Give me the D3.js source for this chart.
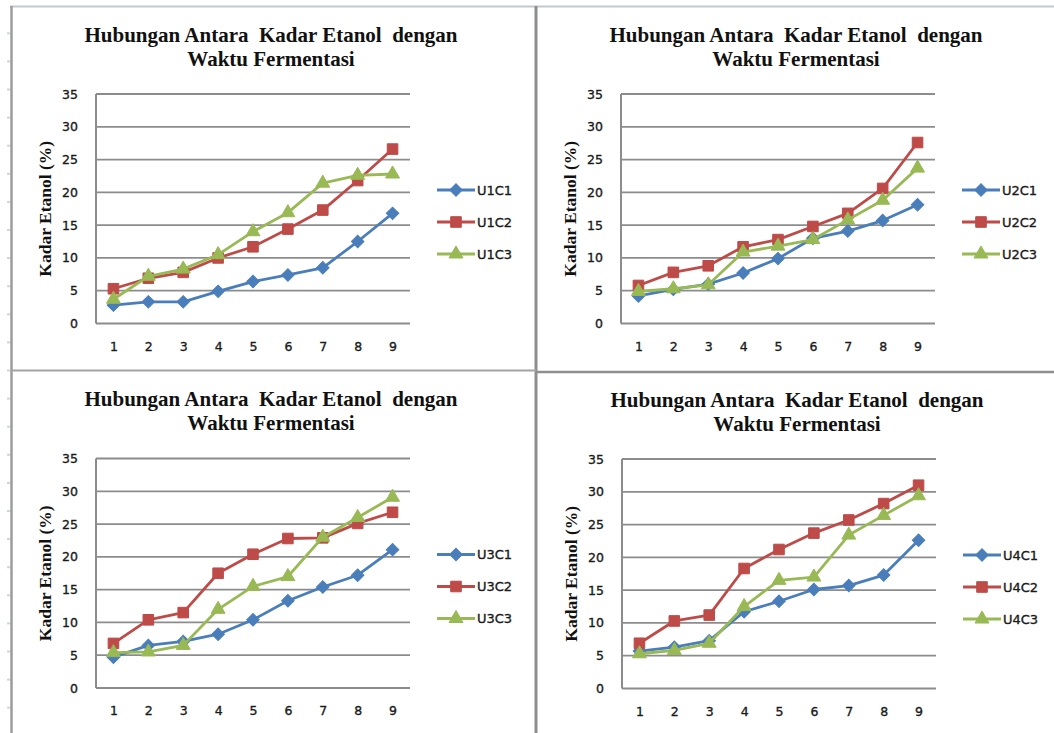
<!DOCTYPE html>
<html>
<head>
<meta charset="utf-8">
<script src="https://cdn.jsdelivr.net/npm/d3@7"></script>
<style>
  html, body { margin: 0; padding: 0; background: #ffffff; }
  svg { display: block; }
</style>
</head>
<body>
<svg id="chart" width="1054" height="733"></svg>
<script>
// ---- data ----
const categories = [1, 2, 3, 4, 5, 6, 7, 8, 9];
const yTicks = [0, 5, 10, 15, 20, 25, 30, 35];
const titleLines = ["Hubungan Antara  Kadar Etanol  dengan", "Waktu Fermentasi"];
const yAxisTitle = "Kadar Etanol (%)";

const namesU1 = ["U1C1", "U1C2", "U1C3"];
const u1c1 = [2.8, 3.3, 3.3, 4.9, 6.4, 7.4, 8.5, 12.5, 16.8];
const u1c2 = [5.3, 6.9, 7.8, 10.0, 11.7, 14.4, 17.3, 21.8, 26.6];
const u1c3 = [3.7, 7.2, 8.3, 10.5, 14.0, 16.9, 21.4, 22.6, 22.8];

const namesU2 = ["U2C1", "U2C2", "U2C3"];
const u2c1 = [4.2, 5.2, 6.0, 7.7, 9.9, 13.0, 14.1, 15.7, 18.1];
const u2c2 = [5.8, 7.8, 8.8, 11.7, 12.8, 14.8, 16.8, 20.6, 27.6];
const u2c3 = [4.9, 5.3, 5.9, 10.9, 11.8, 12.8, 15.8, 18.8, 23.7];

const namesU3 = ["U3C1", "U3C2", "U3C3"];
const u3c1 = [4.7, 6.5, 7.1, 8.2, 10.4, 13.3, 15.4, 17.2, 21.1];
const u3c2 = [6.8, 10.4, 11.5, 17.5, 20.4, 22.8, 22.9, 25.1, 26.8];
const u3c3 = [5.4, 5.5, 6.5, 12.0, 15.5, 17.0, 23.0, 26.0, 29.1];

const namesU4 = ["U4C1", "U4C2", "U4C3"];
const u4c1 = [5.7, 6.3, 7.3, 11.7, 13.3, 15.1, 15.7, 17.3, 22.6];
const u4c2 = [6.9, 10.3, 11.2, 18.3, 21.2, 23.7, 25.7, 28.2, 31.0];
const u4c3 = [5.3, 5.8, 6.9, 12.5, 16.5, 17.0, 23.4, 26.4, 29.4];

// ---- styling ----
const seriesColors = ["#4A7EBB", "#BE4B48", "#98B954"];
const markerShapes = ["diamond", "square", "triangle"];
const gridColor = "#8c8c8c";
const serif = "Liberation Serif";
const sans = "DejaVu Sans";

const panels = [
  { dx: 0,   dy: 0,     names: namesU1, values: [u1c1, u1c2, u1c3] },
  { dx: 525, dy: 0,     names: namesU2, values: [u2c1, u2c2, u2c3] },
  { dx: 0,   dy: 364.5, names: namesU3, values: [u3c1, u3c2, u3c3] },
  { dx: 526, dy: 365,   names: namesU4, values: [u4c1, u4c2, u4c3] }
];

const svg = d3.select("#chart");

// ---- sheet frame ----
svg.append("line").attr("x1", 10).attr("x2", 1054).attr("y1", 6.5).attr("y2", 6.5)
  .attr("stroke", "#c3c8d2").attr("stroke-width", 2);
svg.append("g").selectAll("line").data(d3.range(33.3, 733, 28.1)).join("line")
  .attr("x1", 7).attr("x2", 10.5).attr("y1", d => d).attr("y2", d => d)
  .attr("stroke", "#cfd6e2").attr("stroke-width", 2);
svg.append("line").attr("x1", 11.5).attr("x2", 11.5).attr("y1", 6).attr("y2", 733)
  .attr("stroke", "#9c9c9c").attr("stroke-width", 2.5);
svg.append("line").attr("x1", 536).attr("x2", 536).attr("y1", 6).attr("y2", 733)
  .attr("stroke", "#8e8e8e").attr("stroke-width", 3);
svg.append("line").attr("x1", 11).attr("x2", 536).attr("y1", 370.5).attr("y2", 370.5)
  .attr("stroke", "#a3a3a3").attr("stroke-width", 2);
svg.append("line").attr("x1", 536).attr("x2", 1054).attr("y1", 372).attr("y2", 372)
  .attr("stroke", "#8e8e8e").attr("stroke-width", 2.5);

function markerPath(shape) {
  if (shape === "diamond") return d3.symbol(d3.symbolSquare, 78)();
  if (shape === "square") return d3.symbol(d3.symbolSquare, 112)();
  return d3.symbol(d3.symbolTriangle, 84)();
}

function drawMarker(sel, shape, color) {
  return sel.append("path")
    .attr("d", markerPath(shape))
    .attr("fill", color)
    .attr("stroke", color)
    .attr("stroke-width", 1);
}

function styleLabels(sel, size) {
  sel.attr("font-family", sans).attr("font-size", size)
    .attr("fill", "#1a1a1a").attr("stroke", "#1a1a1a").attr("stroke-width", 0.35);
}

function drawPanel(p) {
  const g = svg.append("g").attr("transform", `translate(${p.dx},${p.dy})`);
  const left = 96, right = 410, top = 94, bottom = 323.5;

  const x = d3.scalePoint().domain(categories).range([left, right]).padding(0.5);
  const y = d3.scaleLinear().domain([0, 35]).range([bottom, top]);

  // title
  const t = g.append("text").attr("text-anchor", "middle")
    .attr("font-family", serif).attr("font-weight", "bold").attr("font-size", 21)
    .attr("fill", "#111").style("white-space", "pre");
  t.append("tspan").attr("x", 271).attr("y", 41.7).text(titleLines[0]);
  t.append("tspan").attr("x", 271).attr("y", 65.7).text(titleLines[1]);

  // y-axis title
  g.append("text")
    .attr("transform", `translate(51,${(top + bottom) / 2}) rotate(-90)`)
    .attr("text-anchor", "middle")
    .attr("font-family", serif).attr("font-weight", "bold").attr("font-size", 17.5)
    .attr("fill", "#111").text(yAxisTitle);

  // horizontal gridlines
  g.append("g").selectAll("line").data(yTicks).join("line")
    .attr("x1", left).attr("x2", right)
    .attr("y1", d => y(d)).attr("y2", d => y(d))
    .attr("stroke", gridColor).attr("stroke-width", 1.8);

  // vertical axis line
  g.append("line").attr("x1", left).attr("x2", left).attr("y1", top).attr("y2", bottom)
    .attr("stroke", gridColor).attr("stroke-width", 2);

  // axis labels
  const yAx = g.append("g").attr("transform", `translate(${left},0)`)
    .call(d3.axisLeft(y).tickValues(yTicks).tickSize(0).tickPadding(18));
  yAx.select(".domain").remove();
  styleLabels(yAx.selectAll("text"), 12.5);

  const xAx = g.append("g").attr("transform", `translate(0,${bottom})`)
    .call(d3.axisBottom(x).tickSize(0).tickPadding(18.5));
  xAx.select(".domain").remove();
  styleLabels(xAx.selectAll("text"), 12.5);

  // series lines + markers
  p.values.forEach((vals, si) => {
    const color = seriesColors[si];
    const line = d3.line().x((d, i) => x(categories[i])).y(d => y(d));
    g.append("path").datum(vals).attr("d", line)
      .attr("fill", "none").attr("stroke", color).attr("stroke-width", 2.8)
      .attr("stroke-linejoin", "round");
    vals.forEach((v, i) => {
      const m = drawMarker(g, markerShapes[si], color);
      const rot = markerShapes[si] === "diamond" ? " rotate(45)" : "";
      m.attr("transform", `translate(${x(categories[i])},${y(v)})${rot}`);
    });
  });

  // legend
  const legY = [190, 222, 254];
  p.names.forEach((name, si) => {
    const color = seriesColors[si];
    g.append("line").attr("x1", 437).attr("x2", 475).attr("y1", legY[si]).attr("y2", legY[si])
      .attr("stroke", color).attr("stroke-width", 2.8);
    const m = drawMarker(g, markerShapes[si], color);
    const rot = markerShapes[si] === "diamond" ? " rotate(45)" : "";
    m.attr("transform", `translate(456,${legY[si]})${rot}`);
    const lt = g.append("text").attr("x", 477).attr("y", legY[si]).attr("dy", "0.36em").text(name);
    styleLabels(lt, 13);
  });
}

panels.forEach(drawPanel);
</script>
</body>
</html>
